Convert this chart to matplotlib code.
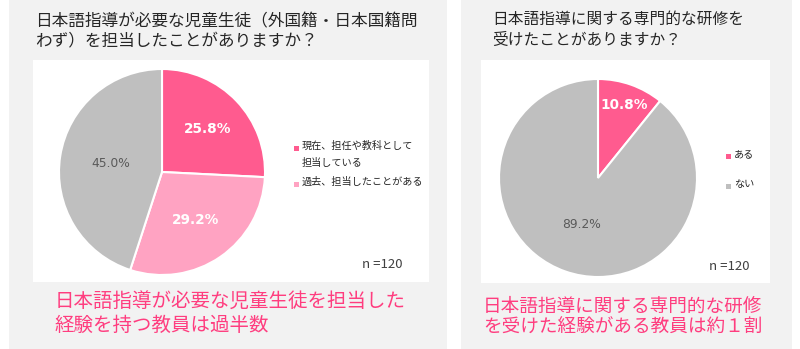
import matplotlib
matplotlib.use("Agg")
import matplotlib.pyplot as plt
from matplotlib.patches import Rectangle
import numpy as np

plt.rcParams['font.family'] = ['Noto Sans CJK JP', 'DejaVu Sans']

# ---- data ----
left_title = "日本語指導が必要な児童生徒（外国籍・日本国籍問\nわず）を担当したことがありますか？"
left_labels = ["現在、担任や教科として\n担当している", "過去、担当したことがある", "担当したことはない"]
left_values = [25.8, 29.2, 45.0]
left_note = "日本語指導が必要な児童生徒を担当した\n経験を持つ教員は過半数"

right_title = "日本語指導に関する専門的な研修を\n受けたことがありますか？"
right_labels = ["ある", "ない"]
right_values = [10.8, 89.2]
right_note = "日本語指導に関する専門的な研修\nを受けた経験がある教員は約１割"

n_text = "n =120"

# ---- style ----
PINK = "#ff5b8f"
LPINK = "#ffa3c2"
GRAY = "#bfbfbf"
PANEL = "#f2f2f2"
NOTE = "#ff3d7f"
TXT = "#262626"

W, H = 800, 349
fig = plt.figure(figsize=(W / 100, H / 100), dpi=100)
fig.patch.set_facecolor("white")

bg = fig.add_axes([0, 0, 1, 1])
bg.set_xlim(0, W)
bg.set_ylim(H, 0)
bg.axis("off")

# panels
bg.add_patch(Rectangle((9, 0), 438, 349, color=PANEL, lw=0))
bg.add_patch(Rectangle((461, 0), 331, 349, color=PANEL, lw=0))
bg.add_patch(Rectangle((33, 60), 396, 222, color="white", lw=0))
bg.add_patch(Rectangle((481, 60), 289, 223, color="white", lw=0))

# titles
bg.text(35, 32, left_title, fontsize=12, color=TXT, va="center", ha="left", linespacing=1.22)
bg.text(492, 30, right_title, fontsize=11.3, color=TXT, va="center", ha="left", linespacing=1.3)

# notes
bg.text(55, 313, left_note, fontsize=14, color=NOTE, va="center", ha="left", linespacing=1.2)
bg.text(483, 317, right_note, fontsize=13.4, color=NOTE, va="center", ha="left", linespacing=1.2)

# n labels
bg.text(362, 265, n_text, fontsize=9.5, color="#404040", va="center", ha="left")
bg.text(709, 267, n_text, fontsize=9.5, color="#404040", va="center", ha="left")


def make_pie(cx, cy, r, values, colors, label_r, label_colors, label_weights):
    ax = fig.add_axes([(cx - r) / W, 1 - (cy + r) / H, 2 * r / W, 2 * r / H])
    wedges, texts, autotexts = ax.pie(
        values, colors=colors, startangle=90, counterclock=False,
        autopct="%.1f%%", pctdistance=0.6,
        wedgeprops=dict(edgecolor="white", linewidth=1.5))
    for w, t, lr, c, fw in zip(wedges, autotexts, label_r, label_colors, label_weights):
        ang = np.deg2rad((w.theta1 + w.theta2) / 2)
        t.set_position((lr * np.cos(ang), lr * np.sin(ang)))
        t.set_fontfamily(["DejaVu Sans"])
        t.set_color(c)
        t.set_fontweight(fw)
        t.set_fontsize(9.8 if fw == "bold" else 8.8)
    ax.set_xlim(-1, 1)
    ax.set_ylim(-1, 1)
    ax.set_aspect("equal")
    return ax


make_pie(162, 172, 103, left_values, [PINK, LPINK, GRAY],
         [0.61, 0.57, 0.5], ["white", "white", "#595959"], ["bold", "bold", "normal"])
make_pie(598, 178, 99, right_values, [PINK, GRAY],
         [0.78, 0.5], ["white", "#595959"], ["bold", "normal"])

# legends (manual)
def legend_item(x, y, color, text):
    bg.add_patch(Rectangle((x - 2.5, y - 2.5), 5, 5, color=color, lw=0))
    bg.text(x + 6, y - 6.8, text, fontsize=7.3, color=TXT, va="top", ha="left", linespacing=1.8)

legend_item(296, 148, PINK, left_labels[0])
legend_item(296, 184, LPINK, left_labels[1])
legend_item(728, 156, PINK, right_labels[0])
legend_item(728, 186, GRAY, right_labels[1])

fig.savefig("out.png", dpi=100, facecolor="white")
